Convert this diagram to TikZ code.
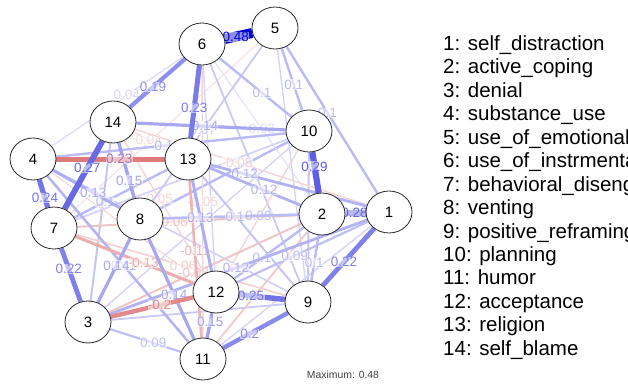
\documentclass[tikz,border=0pt]{standalone}
\usepackage{fontspec}
\setmainfont{Liberation Sans}
\usetikzlibrary{shapes.geometric}
\definecolor{qpos}{RGB}{0,0,213}
\definecolor{qneg}{RGB}{191,0,0}
\definecolor{mixlab}{RGB}{170,115,195}
\pgfdeclarelayer{edges}
\pgfsetlayers{edges,main}
\tikzset{
  nd/.style={ellipse, draw=black!85, line width=0.8pt, fill=white, minimum width=46pt, minimum height=42pt, inner sep=0pt, font=\fontsize{15}{16}\selectfont},
  elab/.style={font=\fontsize{13.5}{14}\selectfont, fill=white, fill opacity=0.55, text opacity=1, inner sep=0.3pt},
  leg/.style={anchor=base west, font=\fontsize{20.5}{22}\selectfont, inner sep=0pt},
}
\newcommand\Ed[4]{\pgfmathsetmacro\ew{0.4+9.6*#4/0.48}\pgfmathtruncatemacro\ec{min(100,8+92*#4/0.48)}%
  \begin{pgfonlayer}{edges}\draw[line width=\ew pt,draw=#1!\ec!white] (#2) -- (#3);\end{pgfonlayer}}
\newcommand\El[6]{\pgfmathsetmacro\ew{0.4+9.6*#4/0.48}\pgfmathtruncatemacro\ec{min(100,8+92*#4/0.48)}%
  \begin{pgfonlayer}{edges}\draw[line width=\ew pt,draw=#1!\ec!white] (#2) -- (#3) node[elab,pos=#6,text=#1!\ec!white] {#5};\end{pgfonlayer}}
\begin{document}
\begin{tikzpicture}[x=1pt,y=-1pt]
\useasboundingbox (0,0) rectangle (628,383);
% nodes
\node[nd] (n1) at (389,212) {1};
\node[nd] (n2) at (322,214) {2};
\node[nd] (n3) at (88,322) {3};
\node[nd] (n4) at (33,159) {4};
\node[nd] (n5) at (275,28) {5};
\node[nd] (n6) at (202,44) {6};
\node[nd] (n7) at (54,228) {7};
\node[nd] (n8) at (140,219) {8};
\node[nd] (n9) at (308,302) {9};
\node[nd] (n10) at (309,131) {10};
\node[nd] (n11) at (203,359) {11};
\node[nd] (n12) at (216,292) {12};
\node[nd] (n13) at (188,159) {13};
\node[nd] (n14) at (113,122) {14};
% faint edges
\Ed{qneg}{n7}{n5}{0.03}
\Ed{qpos}{n5}{n9}{0.05}
\Ed{qpos}{n6}{n12}{0.05}
\Ed{qpos}{n6}{n9}{0.07}
\Ed{qpos}{n10}{n9}{0.08}
\Ed{qpos}{n10}{n8}{0.1}
\Ed{qpos}{n7}{n10}{0.06}
\Ed{qpos}{n3}{n14}{0.08}
\Ed{qpos}{n3}{n9}{0.07}
\Ed{qpos}{n3}{n10}{0.05}
\Ed{qneg}{n4}{n12}{0.04}
\Ed{qpos}{n4}{n9}{0.06}
\Ed{qneg}{n11}{n2}{0.07}
\Ed{qneg}{n12}{n10}{0.05}
\Ed{qpos}{n11}{n1}{0.05}
\Ed{qpos}{n9}{n13}{0.08}
% labelled edges
\El{qneg}{n14}{n13}{0.04}{0.04}{0.45}
\El{qpos}{n6}{n4}{0.04}{0.04}{0.43}
\El{qpos}{n6}{n2}{0.03}{0.03}{0.5}
\El{qneg}{n14}{n12}{0.05}{0.05}{0.44}
\El{qneg}{n6}{n11}{0.05}{-0.05}{0.5}
\El{qneg}{n14}{n1}{0.05}{-0.05}{0.44}
\El{qneg}{n7}{n9}{0.06}{0.06}{0.51}
\El{qpos}{n5}{n8}{0.07}{0.07}{0.54}
\El{qneg}{n7}{n2}{0.08}{0.08}{0.44}
\El{qneg}{n3}{n2}{0.08}{-0.08}{0.44}
\El{qpos}{n3}{n11}{0.09}{0.09}{0.61}
\El{qpos}{n8}{n1}{0.09}{0.09}{0.47}
\El{qpos}{n12}{n1}{0.09}{0.09}{0.44}
\El{qpos}{n6}{n10}{0.1}{0.1}{0.59}
\El{qpos}{n5}{n10}{0.1}{0.1}{0.58}
\El{qpos}{n5}{n1}{0.1}{0.1}{0.45}
\El{qpos}{n2}{n9}{0.1}{0.1}{0.61}
\El{qpos}{n7}{n13}{0.1}{0.1}{0.33}
\El{qpos}{n8}{n2}{0.1}{0.1}{0.53}
\El{qpos}{n12}{n2}{0.1}{0.1}{0.4}
\El{qpos}{n4}{n10}{0.1}{0.1}{0.47}
\El{qpos}{n4}{n11}{0.11}{0.11}{0.54}
\El{qneg}{n13}{n11}{0.11}{-0.11}{0.45}
\El{qpos}{n13}{n1}{0.12}{0.12}{0.22}
\El{qpos}{n13}{n2}{0.12}{0.12}{0.6}
\El{qpos}{n3}{n1}{0.12}{0.12}{0.49}
\El{qpos}{n4}{n8}{0.13}{0.13}{0.6}
\El{qpos}{n13}{n12}{0.13}{0.13}{0.42}
\El{qneg}{n7}{n12}{0.13}{-0.13}{0.57}
\El{qpos}{n14}{n10}{0.14}{0.14}{0.46}
\El{qpos}{n8}{n11}{0.14}{0.14}{0.56}
\El{qpos}{n3}{n8}{0.14}{0.14}{0.58}
\El{qpos}{n14}{n8}{0.15}{0.15}{0.68}
\El{qpos}{n12}{n11}{0.15}{0.15}{0.36}
\El{qpos}{n6}{n14}{0.19}{0.19}{0.58}
\El{qpos}{n11}{n9}{0.2}{0.2}{0.41}
\El{qneg}{n3}{n12}{0.2}{-0.2}{0.59}
\El{qpos}{n7}{n3}{0.22}{0.22}{0.38}
\El{qpos}{n1}{n9}{0.22}{0.22}{0.59}
\begin{pgfonlayer}{edges}
\draw[line width=5pt, draw=qneg!52!white] (n4) -- (n13) node[elab, pos=0.58, text=mixlab] {0.23};
\end{pgfonlayer}
\El{qpos}{n6}{n13}{0.23}{0.23}{0.59}
\El{qpos}{n4}{n7}{0.24}{0.24}{0.67}
\El{qpos}{n12}{n9}{0.25}{0.25}{0.26}
\El{qpos}{n14}{n7}{0.27}{0.27}{0.4}
\El{qpos}{n2}{n1}{0.28}{0.28}{0.45}
\El{qpos}{n10}{n2}{0.29}{0.29}{0.35}
\El{qpos}{n6}{n5}{0.48}{0.48}{0.4}
% legend
\node[leg] (l1) at (443,50.3) {1: self\_distraction};
\node[leg] (l2) at (443,73.8) {2: active\_coping};
\node[leg] (l3) at (443,97.2) {3: denial};
\node[leg] (l4) at (443,120.7) {4: substance\_use};
\node[leg] (l5) at (443,144.1) {5: use\_of\_emotional\_support};
\node[leg] (l6) at (443,167.6) {6: use\_of\_instrmental\_support};
\node[leg] (l7) at (443,191.1) {7: behavioral\_disengagement};
\node[leg] (l8) at (443,214.5) {8: venting};
\node[leg] (l9) at (443,238.0) {9: positive\_reframing};
\node[leg] (l10) at (443,261.4) {10: planning};
\node[leg] (l11) at (443,284.9) {11: humor};
\node[leg] (l12) at (443,308.4) {12: acceptance};
\node[leg] (l13) at (443,331.8) {13: religion};
\node[leg] (l14) at (443,355.3) {14: self\_blame};
\node[anchor=base, font=\fontsize{10.4}{11}\selectfont, text=black!75, inner sep=0pt] (mx) at (343,378.5) {Maximum: 0.48};
\end{tikzpicture}
\end{document}
